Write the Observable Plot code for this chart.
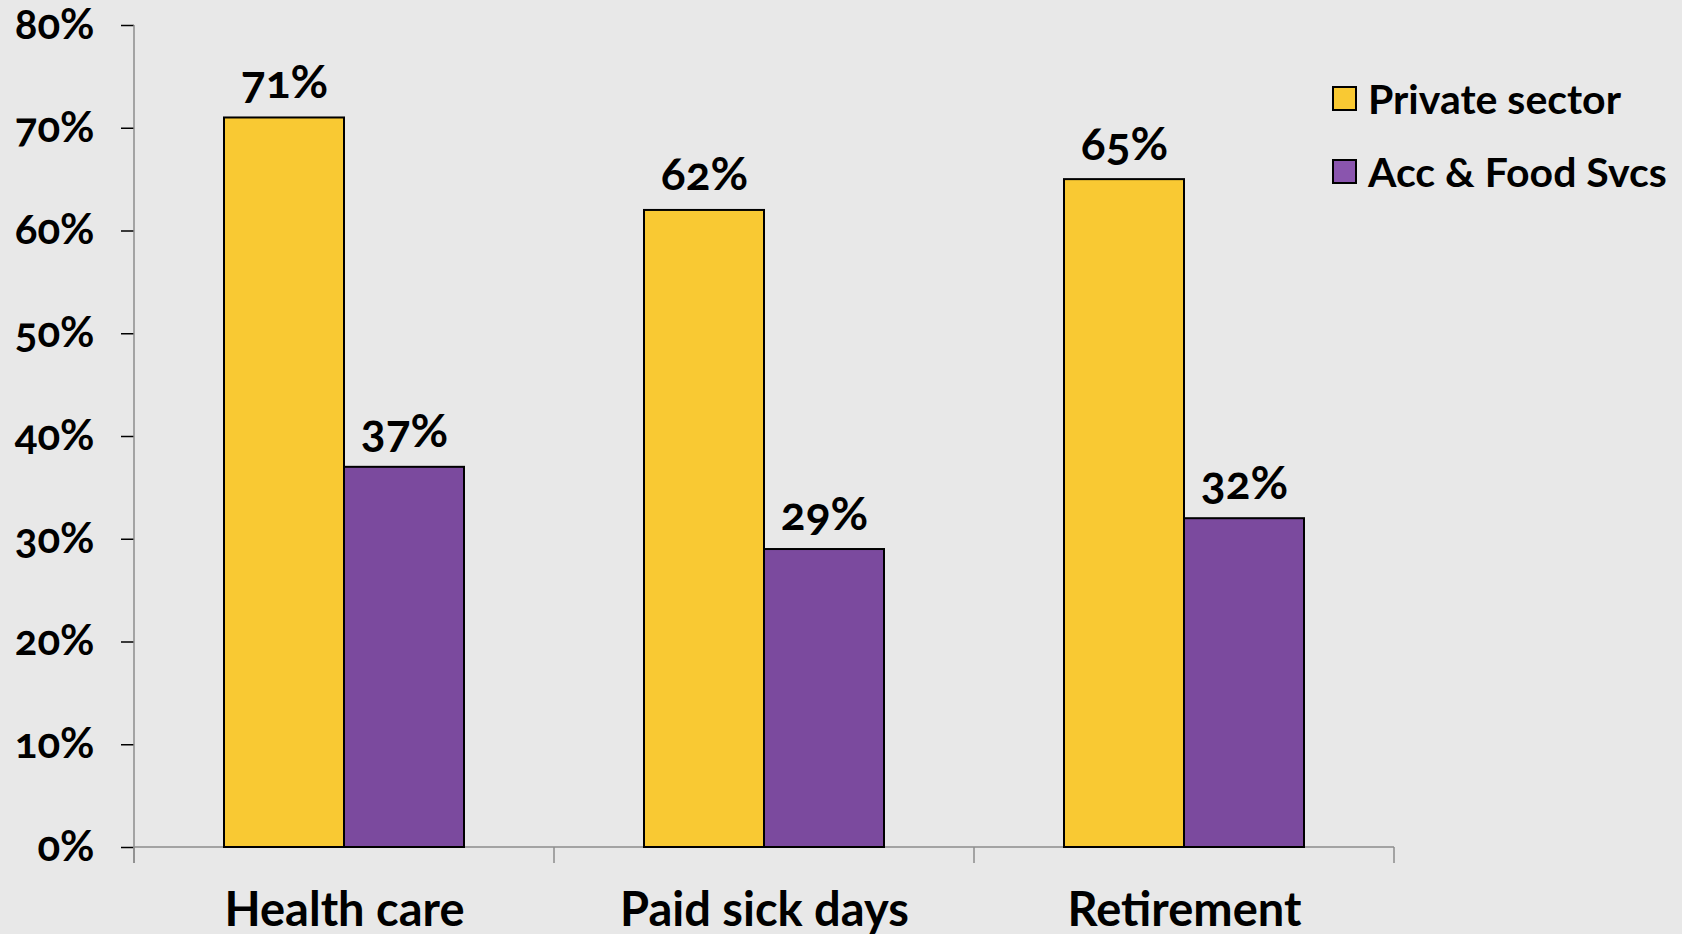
<!DOCTYPE html>
<html><head><meta charset="utf-8">
<script src="https://cdn.jsdelivr.net/npm/d3@7"></script>
<script src="https://cdn.jsdelivr.net/npm/@observablehq/plot@0.6"></script>
<style>
body{margin:0;background:#e8e8e8;}
#wrap{position:relative;width:1682px;height:934px;font-family:Lato,"Open Sans",sans-serif;}
#wrap svg text{font-variant-numeric:oldstyle-nums;}
#legend{position:absolute;left:1332px;top:62px;font-weight:bold;font-size:41px;color:#000;font-family:Lato,sans-serif;}
.item{display:flex;align-items:center;height:73px;white-space:nowrap;}
.sw{width:25px;height:25px;border:2px solid #000;box-sizing:border-box;margin-right:11px;flex:none;}
</style>
</head><body>
<div id="wrap"><div id="legend"></div></div>
<script>
const categories = ["Health care", "Paid sick days", "Retirement"];
const series = ["Private sector", "Acc & Food Svcs"];
const privateSector = [71, 62, 65];
const accFood = [37, 29, 32];
const yTicks = [0, 10, 20, 30, 40, 50, 60, 70, 80];
const colors = ["#F9C933", "#7B4A9E"];
const legendColors = ["#F9C933", "#8A55AE"];

const data = categories.flatMap((c, i) => [
  {category: c, series: series[0], value: privateSector[i]},
  {category: c, series: series[1], value: accFood[i]}
]);

const chart = Plot.plot({
  width: 1682, height: 934,
  marginLeft: 133, marginRight: 287.5, marginTop: 25, marginBottom: 87,
  style: {background: "transparent", fontFamily: "Lato, sans-serif", overflow: "visible", color: "#000"},
  fx: {domain: categories, padding: 0, label: null},
  x: {domain: series, paddingInner: 0, paddingOuter: 0.745, axis: null},
  y: {domain: [0, 80], label: null},
  color: {domain: series, range: colors},
  marks: [
    Plot.axisY({ticks: yTicks, tickSize: 13, tickPadding: 27, tickFormat: d => d + "%", fontSize: 42, fontWeight: "bold", label: null}),
    Plot.axisFx({anchor: "bottom", tickSize: 0, tickPadding: 45, fontSize: 47, fontWeight: "bold", label: null}),
    Plot.barY(data, {fx: "category", x: "series", y: "value", fill: "series", stroke: "#000", strokeWidth: 2}),
    Plot.text(data, {fx: "category", x: "series", y: "value", text: d => d.value + "%", dy: -20, lineAnchor: "bottom", fontSize: 46, fontWeight: "bold", fill: "#000"})
  ]
});

const svg = d3.select(chart);
svg.selectAll('[aria-label="y-axis tick"]').attr("stroke", "#8c8c8c").attr("stroke-width", 1.5);

const fx = chart.scale("fx");
const y = chart.scale("y");
const y0 = y.apply(0), yTop = y.apply(80);
const bounds = categories.map(c => fx.apply(c)).concat([fx.apply(categories[categories.length - 1]) + fx.bandwidth]);
const g = svg.append("g").attr("stroke", "#8c8c8c").attr("stroke-width", 1.5).attr("fill", "none");
g.append("line").attr("x1", bounds[0]).attr("x2", bounds[bounds.length - 1]).attr("y1", y0).attr("y2", y0);
g.append("line").attr("x1", bounds[0]).attr("x2", bounds[0]).attr("y1", yTop).attr("y2", y0 + 16);
bounds.forEach(b => g.append("line").attr("x1", b).attr("x2", b).attr("y1", y0).attr("y2", y0 + 16));
svg.selectAll('[aria-label="bar"]').raise();
svg.selectAll('[aria-label="text"]').raise();

document.getElementById("wrap").prepend(chart);
chart.style.position = "absolute"; chart.style.left = "0"; chart.style.top = "0";

const legend = d3.select("#legend");
series.forEach((s, i) => {
  const it = legend.append("div").attr("class", "item");
  it.append("div").attr("class", "sw").style("background", legendColors[i]);
  it.append("span").text(s);
});
</script>
</body></html>
